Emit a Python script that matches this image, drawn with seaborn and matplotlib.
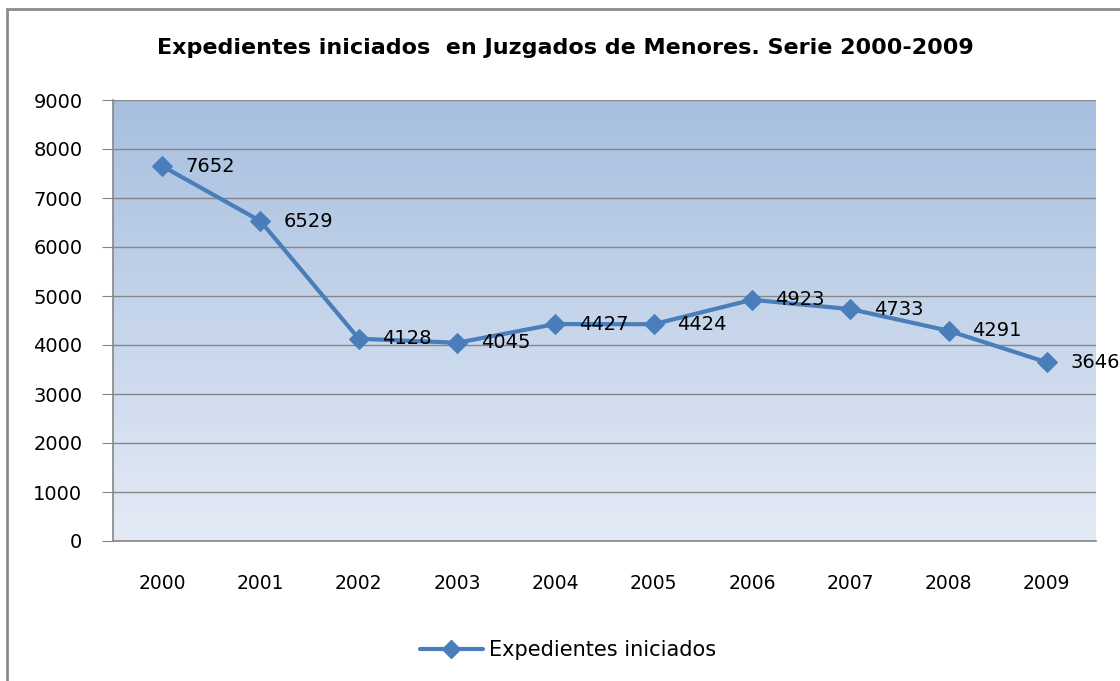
import numpy as np
import pandas as pd
import matplotlib
matplotlib.use("Agg")
import matplotlib.pyplot as plt
import seaborn as sns
from matplotlib.patches import Rectangle
from matplotlib.lines import Line2D

sns.set_style("white")
plt.rcParams["font.family"] = ["DejaVu Sans"]
plt.rcParams["text.color"] = "black"
plt.rcParams["xtick.color"] = "black"
plt.rcParams["ytick.color"] = "black"

# ── data ─────────────────────────────────────────────
years = ["2000", "2001", "2002", "2003", "2004", "2005", "2006", "2007", "2008", "2009"]
expedientes = [7652, 6529, 4128, 4045, 4427, 4424, 4923, 4733, 4291, 3646]
y_ticks = [0, 1000, 2000, 3000, 4000, 5000, 6000, 7000, 8000, 9000]

LINE_COLOR = "#4A7EBB"
GRID_COLOR = "#868686"

df = pd.DataFrame({"pos": np.arange(len(years)), "year": years, "value": expedientes})

fig = plt.figure(figsize=(11.2, 6.81), dpi=100)
ax = fig.add_axes([113 / 1120, 1 - 541 / 681, (1096 - 113) / 1120, (541 - 100) / 681])

# gradient background of the plot area (dark at top, light at bottom)
top = np.array([0xA7, 0xBF, 0xDF]) / 255
bot = np.array([0xE4, 0xEB, 0xF6]) / 255
t = np.linspace(0, 1, 256)[:, None]
grad = (top * (1 - t) + bot * t)[:, None, :]
ax.imshow(grad, extent=[0, 1, 0, 1], transform=ax.transAxes, aspect="auto", zorder=0)

sns.lineplot(data=df, x="pos", y="value", ax=ax, color=LINE_COLOR, linewidth=3,
             marker="D", markersize=10, markeredgecolor=LINE_COLOR, zorder=3)

for x, v in zip(df["pos"], df["value"]):
    ax.annotate(f"{v}", (x, v), xytext=(17, 0), textcoords="offset points",
                ha="left", va="center", fontsize=14, color="black", zorder=4)

ax.set_xlim(-0.5, len(years) - 0.5)
ax.set_ylim(0, 9000)
ax.set_yticks(y_ticks)
ax.set_yticklabels([str(v) for v in y_ticks], fontsize=14)
ax.set_xticks(np.arange(-0.5, len(years), 1.0))
ax.set_xticklabels([])
ax.set_xticks(df["pos"], minor=True)
ax.set_xticklabels(years, minor=True, fontsize=13.5)
ax.tick_params(axis="x", which="major", length=8, color=GRID_COLOR, direction="out")
ax.tick_params(axis="x", which="minor", length=0, pad=24)
ax.tick_params(axis="y", length=8, color=GRID_COLOR, direction="out", pad=14, left=True)
ax.yaxis.grid(True, color=GRID_COLOR, linewidth=1)
ax.set_axisbelow(False)
for ln in ax.get_ygridlines():
    ln.set_zorder(1)
ax.set_xlabel("")
ax.set_ylabel("")
for s in ["top", "right"]:
    ax.spines[s].set_visible(False)
for s in ["left", "bottom"]:
    ax.spines[s].set_color(GRID_COLOR)
    ax.spines[s].set_linewidth(1.2)
    ax.spines[s].set_zorder(5)

fig.text(565 / 1120, 1 - 48 / 681, "Expedientes iniciados  en Juzgados de Menores. Serie 2000-2009",
         ha="center", va="center", fontsize=16, fontweight="bold", color="black")

handle = Line2D([], [], color=LINE_COLOR, linewidth=3, marker="D", markersize=9)
fig.legend([handle], ["Expedientes iniciados"], loc="center", bbox_to_anchor=(568 / 1120, 1 - 650 / 681),
           frameon=False, fontsize=15, handlelength=3, handletextpad=0.3)

# outer chart frame
fig.patches.append(Rectangle((7 / 1120, -0.1), 1.2, 1 - 9 / 681 + 0.1, transform=fig.transFigure,
                             fill=False, edgecolor="#8C8C8C", linewidth=2))

fig.savefig("out.png", dpi=100)
